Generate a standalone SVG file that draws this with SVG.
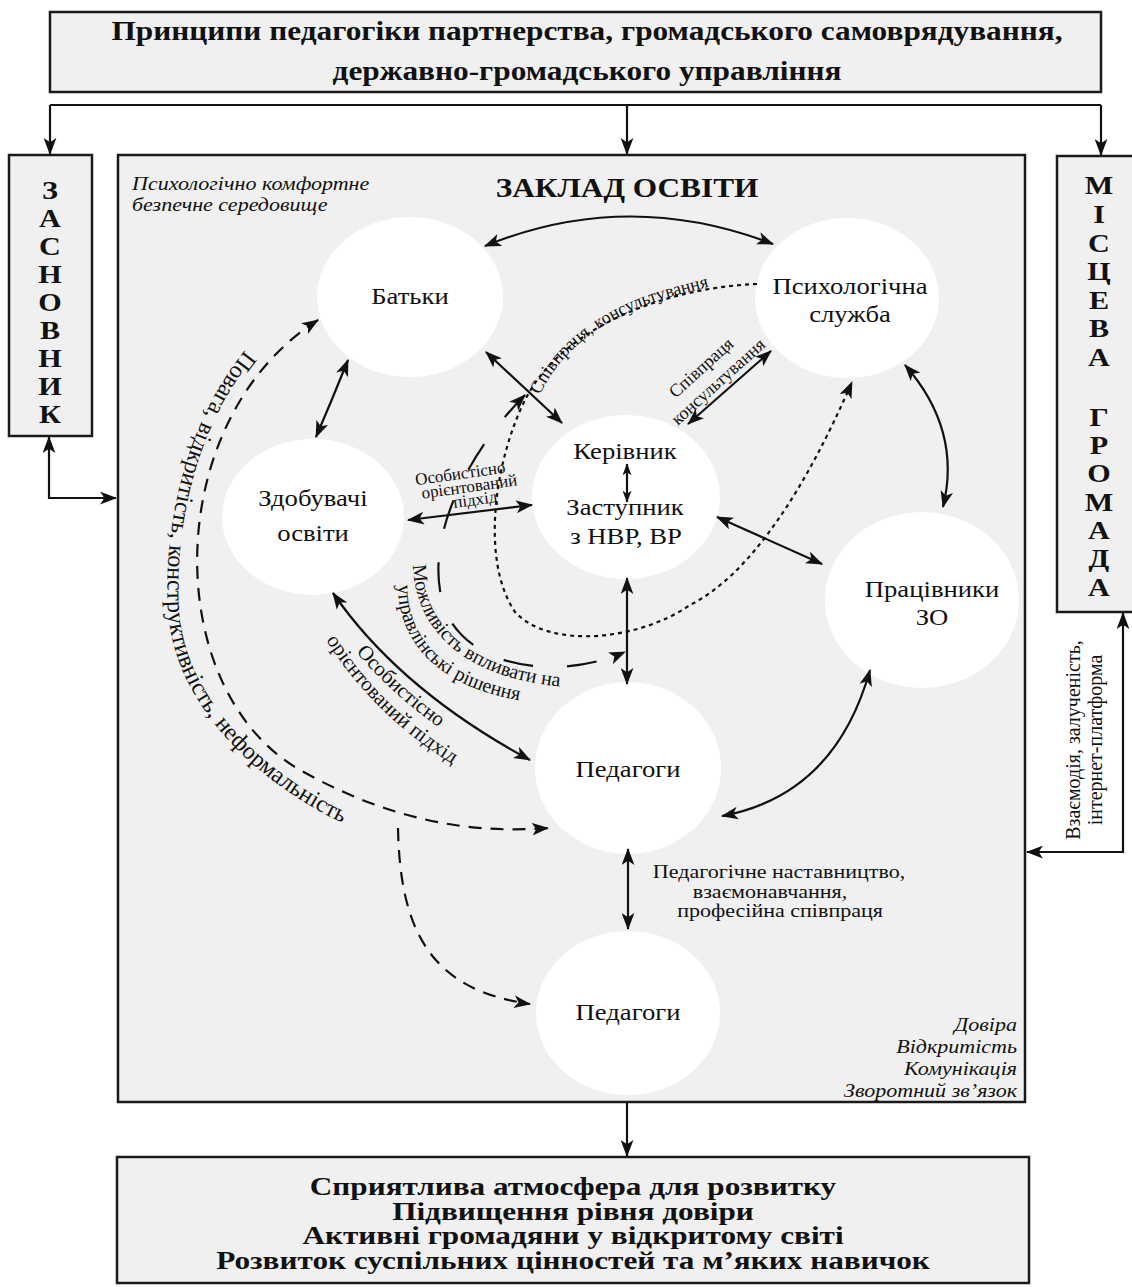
<svg xmlns="http://www.w3.org/2000/svg" width="1132" height="1287" viewBox="0 0 1132 1287">
<defs>
<style>
.box{fill:#f0f0f0;stroke:#1a1a1a;stroke-width:2.5}
.node{fill:#ffffff}
.t{font-family:"Liberation Serif","Times New Roman",serif;fill:#111}
.hb{font-weight:bold;font-size:27px;text-anchor:middle}
.rb{font-weight:bold;font-size:25px;text-anchor:middle}
.vl{font-weight:bold;font-size:26px;text-anchor:middle}
.nl{font-size:23px;text-anchor:middle}
.sm{font-size:18px}
.cv{font-size:20px}
.it{font-style:italic;font-size:19px}
.ln{fill:none;stroke:#111;stroke-width:2.2}
.da{stroke-dasharray:13 9}
.dl{stroke-dasharray:30 34}
.dt{stroke-dasharray:4 4}
.a1{marker-end:url(#ah)}
.a2{marker-start:url(#ah);marker-end:url(#ah)}
.s2{marker-start:url(#as);marker-end:url(#as)}
</style>
<marker id="ah" viewBox="0 0 16 12" refX="15" refY="6" markerWidth="17" markerHeight="13" markerUnits="userSpaceOnUse" orient="auto-start-reverse"><path d="M0,0 L16,6 L0,12 L4,6 Z" fill="#111" stroke="none"/></marker>
<marker id="as" viewBox="0 0 16 12" refX="15" refY="6" markerWidth="12" markerHeight="9" markerUnits="userSpaceOnUse" orient="auto-start-reverse"><path d="M0,0 L16,6 L0,12 L4,6 Z" fill="#111" stroke="none"/></marker>
<path id="p1" d="M540,395 C560,350 607,315 667,298 S732,282 757,280"/>
<path id="p2" d="M413,565 C415,640 480,692 610,688"/>
<path id="p3" d="M398,585 C398,652 452,702 570,705"/>
<path id="p4" d="M356,652 Q420,728 535,784"/>
<path id="p5" d="M326,640 Q395,750 535,805"/>
<path id="p6" d="M245,350 C188,420 163,520 168,610 C173,700 255,800 410,850"/>
</defs>

<g id="principles">
<rect class="box" x="50" y="12" width="1051" height="80"/>
<text class="t hb" x="0" y="0" transform="translate(587,40) scale(1.16,1)">Принципи педагогіки партнерства, громадського самоврядування,</text>
<text class="t hb" x="0" y="0" transform="translate(587,80) scale(1.16,1)">державно-громадського управління</text>
</g>

<g id="zasnovnyk">
<rect class="box" x="9" y="155" width="83" height="281"/>
<g transform="translate(50,0) scale(1.16,1)">
<text class="t vl" x="0" y="199">З</text>
<text class="t vl" x="0" y="227">А</text>
<text class="t vl" x="0" y="255">С</text>
<text class="t vl" x="0" y="283">Н</text>
<text class="t vl" x="0" y="311">О</text>
<text class="t vl" x="0" y="339">В</text>
<text class="t vl" x="0" y="367">Н</text>
<text class="t vl" x="0" y="395">И</text>
<text class="t vl" x="0" y="423">К</text>
</g>
</g>

<g id="hromada">
<rect class="box" x="1057" y="156" width="90" height="456"/>
<g transform="translate(1099,0) scale(1.16,1)">
<text class="t vl" x="0" y="194">М</text>
<text class="t vl" x="0" y="223">І</text>
<text class="t vl" x="0" y="252">С</text>
<text class="t vl" x="0" y="280">Ц</text>
<text class="t vl" x="0" y="309">Е</text>
<text class="t vl" x="0" y="337">В</text>
<text class="t vl" x="0" y="366">А</text>
<text class="t vl" x="0" y="426">Г</text>
<text class="t vl" x="0" y="454">Р</text>
<text class="t vl" x="0" y="482">О</text>
<text class="t vl" x="0" y="511">М</text>
<text class="t vl" x="0" y="539">А</text>
<text class="t vl" x="0" y="567">Д</text>
<text class="t vl" x="0" y="596">А</text>
</g>
</g>

<g id="zaklad">
<rect class="box" x="118" y="155" width="907" height="947"/>
<text class="t hb" x="0" y="0" transform="translate(627,197) scale(1.16,1)">ЗАКЛАД ОСВІТИ</text>
<text class="t it" x="0" y="0" transform="translate(132,190) scale(1.16,1)">Психологічно комфортне</text>
<text class="t it" x="0" y="0" transform="translate(132,211) scale(1.16,1)">безпечне середовище</text>
<text class="t it" x="0" y="0" text-anchor="end" transform="translate(1017,1031) scale(1.16,1)">Довіра</text>
<text class="t it" x="0" y="0" text-anchor="end" transform="translate(1017,1053) scale(1.16,1)">Відкритість</text>
<text class="t it" x="0" y="0" text-anchor="end" transform="translate(1017,1075) scale(1.16,1)">Комунікація</text>
<text class="t it" x="0" y="0" text-anchor="end" transform="translate(1017,1097) scale(1.16,1)">Зворотний зв’язок</text>
</g>

<g id="batky"><ellipse class="node" cx="410" cy="297" rx="93" ry="80"/><text class="t nl" x="0" y="0" transform="translate(410,304) scale(1.16,1)">Батьки</text></g>
<g id="psycho"><ellipse class="node" cx="847" cy="298" rx="92" ry="80"/><text class="t nl" x="0" y="0" transform="translate(850,294) scale(1.16,1)">Психологічна</text><text class="t nl" x="0" y="0" transform="translate(850,322) scale(1.16,1)">служба</text></g>
<g id="kerivnyk"><ellipse class="node" cx="626" cy="497" rx="94" ry="82"/><text class="t nl" x="0" y="0" transform="translate(625,459) scale(1.16,1)">Керівник</text><text class="t nl" x="0" y="0" transform="translate(625,515) scale(1.16,1)">Заступник</text><text class="t nl" x="0" y="0" transform="translate(626,544) scale(1.16,1)">з НВР, ВР</text></g>
<g id="zdobuvachi"><ellipse class="node" cx="313" cy="517" rx="91" ry="78"/><text class="t nl" x="0" y="0" transform="translate(313,506) scale(1.16,1)">Здобувачі</text><text class="t nl" x="0" y="0" transform="translate(313,541) scale(1.16,1)">освіти</text></g>
<g id="pratsivnyky"><ellipse class="node" cx="922" cy="600" rx="97" ry="88"/><text class="t nl" x="0" y="0" transform="translate(932,597) scale(1.16,1)">Працівники</text><text class="t nl" x="0" y="0" transform="translate(932,625) scale(1.16,1)">ЗО</text></g>
<g id="pedagogy1"><ellipse class="node" cx="628" cy="768" rx="93" ry="86"/><text class="t nl" x="0" y="0" transform="translate(628,777) scale(1.16,1)">Педагоги</text></g>
<g id="pedagogy2"><ellipse class="node" cx="628" cy="1013" rx="92" ry="82"/><text class="t nl" x="0" y="0" transform="translate(628,1020) scale(1.16,1)">Педагоги</text></g>

<g id="results">
<rect class="box" x="117" y="1157" width="912" height="126"/>
<text class="t rb" x="0" y="0" transform="translate(573,1195) scale(1.25,1)">Сприятлива атмосфера для розвитку</text>
<text class="t rb" x="0" y="0" transform="translate(573,1219.5) scale(1.25,1)">Підвищення рівня довіри</text>
<text class="t rb" x="0" y="0" transform="translate(573,1244) scale(1.25,1)">Активні громадяни у відкритому світі</text>
<text class="t rb" x="0" y="0" transform="translate(573,1268.5) scale(1.25,1)">Розвиток суспільних цінностей та м’яких навичок</text>
</g>

<g id="connectors">
<path class="ln" d="M50,105 H1101"/>
<path class="ln a1" d="M50,105 V154"/>
<path class="ln a1" d="M627,105 V154"/>
<path class="ln a1" d="M1101,105 V155"/>
<path class="ln a2" d="M49,437 V498 H116"/>
<path class="ln a2" d="M1123,613 V852 H1027"/>
<path class="ln a1" d="M627,1102 V1156"/>

<path class="ln a2" d="M485,246 Q627,188 773,244"/>
<path class="ln a2" d="M905,365 Q962,430 943,507"/>
<path class="ln a2" d="M348,360 Q332,400 316,437"/>
<path class="ln a2" d="M722,816 Q835,795 870,670"/>
<path class="ln a2" d="M333,593 Q400,690 530,760"/>
<path class="ln a2" d="M486,352 L562,423"/>
<path class="ln a2" d="M688,424 L771,351"/>
<path class="ln a2" d="M408,520 L532,505"/>
<path class="ln a2" d="M717,517 L822,564"/>
<path class="ln a2" d="M627,578 V684"/>
<path class="ln s2" d="M627,464 V502"/>
<path class="ln a2" d="M628,849 V929"/>

<path class="ln da a2" d="M318,320 C160,420 160,690 300,770 C380,815 460,835 548,828"/>
<path class="ln da a1" d="M398,828 C400,930 430,990 530,1004"/>
<path class="ln dt a1" d="M757,284 C660,288 560,330 525,400 C495,460 480,560 515,612 C550,650 640,640 690,605 C750,575 805,490 852,382"/>
<path class="ln dl a2" d="M525,395 C470,450 420,540 445,610 C470,670 560,680 625,652"/>

<text class="t sm"><textPath href="#p1">Співпраця, консультування</textPath></text>
<text class="t sm" text-anchor="middle" transform="translate(705,372) rotate(-42)">Співпраця</text>
<text class="t sm" text-anchor="middle" transform="translate(722,386) rotate(-42)">консультування</text>
<text class="t" font-size="17" text-anchor="middle" transform="translate(461,479) rotate(-8)">Особистісно</text>
<text class="t" font-size="17" text-anchor="middle" transform="translate(470,492) rotate(-8)">орієнтований</text>
<text class="t" font-size="17" text-anchor="middle" transform="translate(476,505) rotate(-8)">підхід</text>
<text class="t cv"><textPath href="#p2">Можливість впливати на</textPath></text>
<text class="t cv"><textPath href="#p3">управлінські рішення</textPath></text>
<text class="t" font-size="21"><textPath href="#p4">Особистісно</textPath></text>
<text class="t" font-size="21"><textPath href="#p5">орієнтований підхід</textPath></text>
<text class="t" font-size="24"><textPath href="#p6">Повага, відкритість, конструктивність, неформальність</textPath></text>
<text class="t" font-size="19" text-anchor="middle" x="0" y="0" transform="translate(779,878) scale(1.16,1)">Педагогічне наставництво,</text>
<text class="t" font-size="19" text-anchor="middle" x="0" y="0" transform="translate(770,898) scale(1.16,1)">взаємонавчання,</text>
<text class="t" font-size="19" text-anchor="middle" x="0" y="0" transform="translate(780,917) scale(1.16,1)">професійна співпраця</text>
<text class="t" font-size="20" text-anchor="middle" transform="translate(1080,740) rotate(-90)">Взаємодія, залученість,</text>
<text class="t" font-size="20" text-anchor="middle" transform="translate(1102,740) rotate(-90)">інтернет-платформа</text>
</g>
</svg>
